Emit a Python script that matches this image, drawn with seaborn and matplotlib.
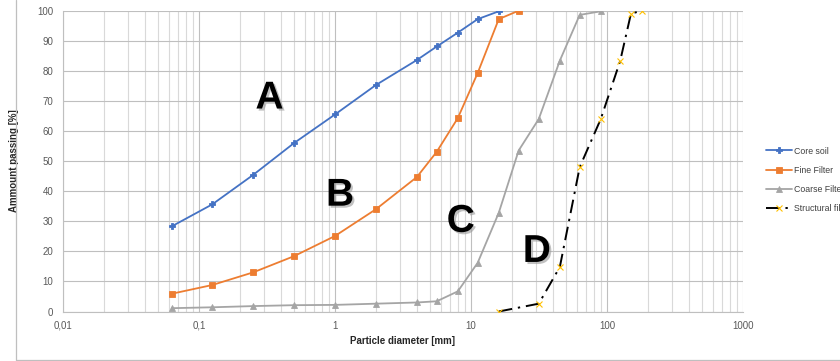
import numpy as np
import pandas as pd
import matplotlib
matplotlib.use("Agg")
import matplotlib.pyplot as plt
import matplotlib.patheffects as pe
from matplotlib.lines import Line2D
from matplotlib.ticker import FixedLocator, FixedFormatter, LogLocator, NullFormatter
import seaborn as sns

# Sieve sizes [mm] and percentage passing for each material
core_d = [0.063, 0.125, 0.25, 0.5, 1, 2, 4, 5.6, 8, 11.2, 16]
core_p = [28.3, 35.6, 45.4, 56.0, 65.5, 75.3, 83.6, 88.1, 92.7, 97.2, 99.8]

fine_d = [0.063, 0.125, 0.25, 0.5, 1, 2, 4, 5.6, 8, 11.2, 16, 22.4]
fine_p = [5.9, 8.8, 13.0, 18.4, 25.1, 34.0, 44.7, 53.1, 64.3, 79.3, 97.2, 100.0]

coarse_d = [0.063, 0.125, 0.25, 0.5, 1, 2, 4, 5.6, 8, 11.2, 16, 22.4, 31.5, 45, 63, 90]
coarse_p = [1.1, 1.4, 1.8, 2.1, 2.2, 2.6, 3.0, 3.4, 6.7, 16.2, 32.8, 53.5, 64.0, 83.4, 98.6, 99.8]

struct_d = [16, 31.5, 45, 63, 90, 125, 150, 180]
struct_p = [0.0, 2.6, 14.8, 48.0, 64.0, 83.3, 99.0, 100.0]

series_names = ["Core soil", "Fine Filter", "Coarse Filter", "Structural filter"]
x_ticks = [0.01, 0.1, 1, 10, 100, 1000]
x_tick_labels = ["0,01", "0,1", "1", "10", "100", "1000"]
y_ticks = [0, 10, 20, 30, 40, 50, 60, 70, 80, 90, 100]
curve_letters = ["A", "B", "C", "D"]
letter_pos = [(0.33, 70.8), (1.09, 38.5), (8.4, 29.8), (30.5, 19.8)]

sns.set_style("white")
plt.rcParams["font.family"] = ["Liberation Sans Narrow", "Liberation Sans", "DejaVu Sans"]

df = pd.concat([
    pd.DataFrame({"d": core_d, "p": core_p, "s": series_names[0]}),
    pd.DataFrame({"d": fine_d, "p": fine_p, "s": series_names[1]}),
    pd.DataFrame({"d": coarse_d, "p": coarse_p, "s": series_names[2]}),
    pd.DataFrame({"d": struct_d, "p": struct_p, "s": series_names[3]}),
])

fig = plt.figure(figsize=(8.4, 3.61), dpi=100)
ax = fig.add_axes([63 / 840, 1 - 311.5 / 361, (743 - 63) / 840, (311.5 - 10.7) / 361])

styles = {
    series_names[0]: dict(color="#4472C4", marker="P", markersize=4, lw=1.3, ls="-", mfc="#4472C4", mec="#4472C4"),
    series_names[1]: dict(color="#ED7D31", marker="s", markersize=4, lw=1.3, ls="-", mfc="#ED7D31", mec="#ED7D31"),
    series_names[2]: dict(color="#A5A5A5", marker="^", markersize=4, lw=1.3, ls="-", mfc="#A5A5A5", mec="#A5A5A5"),
    series_names[3]: dict(color="black", marker="x", markersize=4.5, lw=1.4, ls=(0, (7, 3, 1.2, 3)),
                          mfc="#FFC000", mec="#FFC000", mew=0.8),
}

for name in series_names:
    st = styles[name]
    sns.lineplot(data=df[df["s"] == name], x="d", y="p", ax=ax, label=name,
                 color=st["color"], linewidth=st["lw"], linestyle=st["ls"],
                 marker=st["marker"], markersize=st["markersize"],
                 markerfacecolor=st["mfc"], markeredgecolor=st["mec"],
                 markeredgewidth=st.get("mew", 0.6), sort=False, estimator=None, zorder=3)

ax.set_xscale("log")
ax.set_xlim(0.01, 1000)
ax.set_ylim(0, 100)

ax.xaxis.set_major_locator(FixedLocator(x_ticks))
ax.xaxis.set_major_formatter(FixedFormatter(x_tick_labels))
ax.xaxis.set_minor_locator(LogLocator(base=10, subs=np.arange(2, 10)))
ax.xaxis.set_minor_formatter(NullFormatter())
ax.set_yticks(y_ticks)

ax.grid(which="major", axis="both", color="#BFBFBF", linewidth=0.8, zorder=0)
ax.grid(which="minor", axis="x", color="#D9D9D9", linewidth=0.8, zorder=0)

for side in ["top", "right"]:
    ax.spines[side].set_visible(False)
for side in ["left", "bottom"]:
    ax.spines[side].set_color("#BFBFBF")
    ax.spines[side].set_linewidth(0.8)

ax.tick_params(axis="both", which="major", labelsize=7, colors="#BFBFBF", labelcolor="#595959",
               length=3, width=0.8)
ax.tick_params(axis="y", which="major", pad=4)
ax.tick_params(axis="x", which="minor", length=0)

ax.set_xlabel("Particle diameter [mm]", fontsize=7, fontweight="bold", labelpad=4)
ax.set_ylabel("Ammount passing [%]", fontsize=7, fontweight="bold", labelpad=13)

shadow = [pe.SimplePatchShadow(offset=(1.5, -1.5), shadow_rgbFace="#999999", alpha=0.6), pe.Normal()]
for letter, (lx, ly) in zip(curve_letters, letter_pos):
    ax.text(lx, ly, letter, fontsize=28, fontweight="bold", family="Liberation Sans",
            ha="center", va="center", color="black", path_effects=shadow, zorder=4)

leg = ax.legend(loc="upper left", bbox_to_anchor=(762 / 840, 1 - 143 / 361),
                bbox_transform=fig.transFigure, frameon=False, fontsize=6.3,
                handlelength=3.0, labelspacing=1.15, handletextpad=0.3, borderaxespad=0)
for t in leg.get_texts():
    t.set_color("#404040")

# chart border
fig.add_artist(Line2D([15.5 / 840, 15.5 / 840], [1 - 360 / 361, 1.0], transform=fig.transFigure,
                      color="#BFBFBF", lw=0.9))
fig.add_artist(Line2D([15.5 / 840, 1.0], [1 - 360 / 361, 1 - 360 / 361], transform=fig.transFigure,
                      color="#BFBFBF", lw=0.9))

fig.savefig("out.png", dpi=100)
